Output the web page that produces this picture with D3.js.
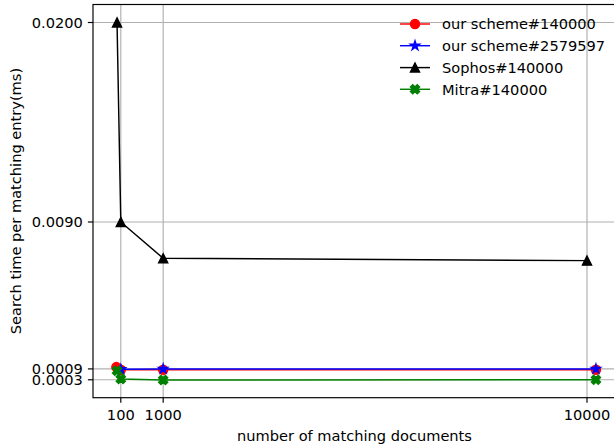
<!DOCTYPE html>
<html><head><meta charset="utf-8">
<script src="https://cdn.jsdelivr.net/npm/d3@7"></script>
<style>body{margin:0;background:#fff}svg{display:block}text{font-family:"DejaVu Sans",sans-serif;font-size:14.6px;fill:#000}</style>
</head><body>
<script>
const xTicks = [100, 1000, 10000];
const yTicks = [0.0003, 0.0009, 0.009, 0.02];
const yTickLabels = ["0.0003", "0.0009", "0.0090", "0.0200"];
const seriesNames = ["our scheme#140000", "our scheme#2579597", "Sophos#140000", "Mitra#140000"];
const oursX = [5, 100, 1000, 10190];
const oursY = [0.00100, 0.00085, 0.00085, 0.00085];
const ours2X = [100, 1000, 10190];
const ours2Y = [0.00088, 0.00090, 0.00090];
const sophosX = [20, 100, 1000, 10000];
const sophosY = [0.0200, 0.0090, 0.0070, 0.00687];
const mitraX = [20, 100, 1000, 10190];
const mitraY = [0.00080, 0.00034, 0.00029, 0.00030];
const xLabel = "number of matching documents";
const yLabel = "Search time per matching entry(ms)";

const W = 614, H = 444;
const L = 93, R = 616, T = 4.5, B = 397.7;
const svg = d3.select("body").append("svg").attr("width", W).attr("height", H);

const xs = (587 - 120.8) / 9900;
const x = d3.scaleLinear().domain([100 - (120.8 - L) / xs, 100 + (R - 120.8) / xs]).range([L, R]);
const ys = (222 - 22.5) / 0.011;
const y = d3.scaleLinear().domain([0.02 - (B - 22.5) / ys, 0.02 + (22.5 - T) / ys]).range([B, T]);

svg.append("defs").append("clipPath").attr("id", "clip")
  .append("rect").attr("x", L).attr("y", T).attr("width", R - L).attr("height", B - T);

const g = svg.append("g");
g.selectAll(".gx").data(xTicks).join("line")
  .attr("x1", d => x(d)).attr("x2", d => x(d)).attr("y1", T).attr("y2", B)
  .attr("stroke", "#b0b0b0").attr("stroke-width", 1.17);
g.selectAll(".gy").data(yTicks).join("line")
  .attr("x1", L).attr("x2", R).attr("y1", d => y(d)).attr("y2", d => y(d))
  .attr("stroke", "#b0b0b0").attr("stroke-width", 1.17);

const ms = 9, r = ms / 2;
function starPath(R0) {
  const ri = R0 * 0.381966; let p = [];
  for (let i = 0; i < 10; i++) {
    const a = -Math.PI / 2 + i * Math.PI / 5; const rr = i % 2 ? ri : R0;
    p.push([rr * Math.cos(a), rr * Math.sin(a)]);
  }
  return "M" + p.map(q => q.join(",")).join("L") + "Z";
}
const xPts = [[-1,-2],[0,-1],[1,-2],[2,-1],[1,0],[2,1],[1,2],[0,1],[-1,2],[-2,1],[-1,0],[-2,-1]].map(q => [q[0]*ms/4, q[1]*ms/4]);
const markers = {
  circle: `M${r},0A${r},${r},0,1,1,${-r},0A${r},${r},0,1,1,${r},0Z`,
  star: starPath(r * 1.05),
  tri: `M0,${-r}L${-r},${r}L${r},${r}Z`,
  x: "M" + xPts.map(q => q.join(",")).join("L") + "Z"
};

const series = [
  {xv: oursX, yv: oursY, c: "#ff0000", m: "circle"},
  {xv: ours2X, yv: ours2Y, c: "#0000ff", m: "star"},
  {xv: sophosX, yv: sophosY, c: "#000000", m: "tri"},
  {xv: mitraX, yv: mitraY, c: "#008000", m: "x"}
];
const plot = svg.append("g").attr("clip-path", "url(#clip)");
const line = d3.line().x(d => x(d[0])).y(d => y(d[1]));
series.forEach(s => {
  const pts = s.xv.map((v, i) => [v, s.yv[i]]);
  plot.append("path").attr("d", line(pts)).attr("fill", "none").attr("stroke", s.c).attr("stroke-width", 1.46);
  plot.selectAll(null).data(pts).join("path")
    .attr("transform", d => `translate(${x(d[0])},${y(d[1])})`)
    .attr("d", markers[s.m]).attr("fill", s.c).attr("stroke", s.c).attr("stroke-width", 1.46);
});

svg.append("rect").attr("x", L).attr("y", T).attr("width", R - L).attr("height", B - T)
  .attr("fill", "none").attr("stroke", "#000").attr("stroke-width", 1.17);

const ax = svg.append("g");
ax.selectAll("line").data(xTicks).join("line")
  .attr("x1", d => x(d)).attr("x2", d => x(d)).attr("y1", B).attr("y2", B + 5.1)
  .attr("stroke", "#000").attr("stroke-width", 1.17);
ax.selectAll("text").data(xTicks).join("text")
  .attr("x", d => x(d)).attr("y", B + 11.7).attr("dy", "0.76em").attr("text-anchor", "middle")
  .text(d => String(d));
const ay = svg.append("g");
ay.selectAll("line").data(yTicks).join("line")
  .attr("x1", L - 5.1).attr("x2", L).attr("y1", d => y(d)).attr("y2", d => y(d))
  .attr("stroke", "#000").attr("stroke-width", 1.17);
ay.selectAll("text").data(yTicks).join("text")
  .attr("x", L - 10.2).attr("y", d => y(d)).attr("dy", "0.36em").attr("text-anchor", "end")
  .text((d, i) => yTickLabels[i]);

svg.append("text").attr("x", (L + R) / 2).attr("y", 441).attr("text-anchor", "middle").text(xLabel);
svg.append("text").attr("transform", `translate(21,${(T + B) / 2}) rotate(-90)`).attr("text-anchor", "middle").text(yLabel);

const lg = svg.append("g");
const rows = [24, 45.7, 67.6, 89.3];
series.forEach((s, i) => {
  lg.append("line").attr("x1", 400).attr("x2", 430).attr("y1", rows[i]).attr("y2", rows[i])
    .attr("stroke", s.c).attr("stroke-width", 1.46);
  lg.append("path").attr("transform", `translate(415,${rows[i]})`).attr("d", markers[s.m])
    .attr("fill", s.c).attr("stroke", s.c).attr("stroke-width", 1.46);
  lg.append("text").attr("x", 442).attr("y", rows[i]).attr("dy", "0.36em").text(seriesNames[i]);
});
</script>
</body></html>
